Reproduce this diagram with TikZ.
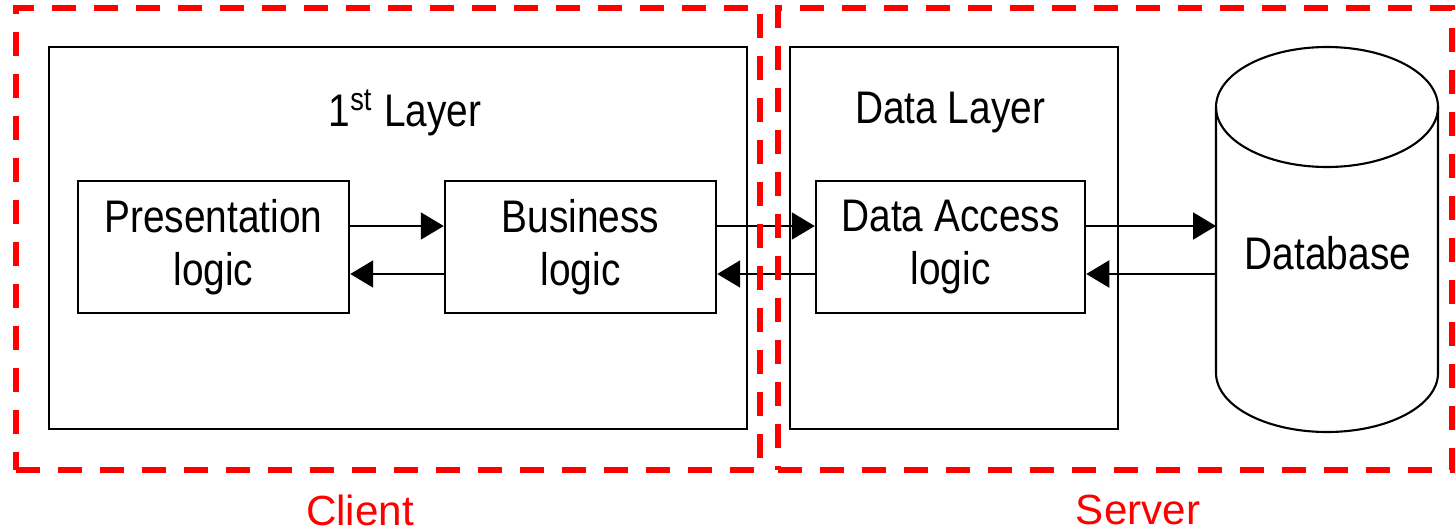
\documentclass[tikz,border=0pt]{standalone}
\usepackage{fontspec}
\setmainfont{Liberation Sans}[FakeStretch=0.85]
\newfontfamily\zonefont{Liberation Sans}
\usetikzlibrary{arrows.meta}

\begin{document}
\begin{tikzpicture}[
    logicbox/.style={draw, line width=0.7pt, minimum width=2.71cm, minimum height=1.32cm,
      align=center, font=\fontsize{13}{15}\selectfont},
    layerbox/.style={draw, line width=0.7pt},
    flow/.style={line width=0.6pt, -{Triangle[length=2.3mm,width=2.7mm]}},
    zone/.style={draw=red, line width=1.6pt, dash pattern=on 0.24cm off 0.18cm},
    zonelabel/.style={text=red, inner sep=1pt, font=\zonefont\fontsize{12}{14}\selectfont}
  ]
  \useasboundingbox (0,0) rectangle (14.56,-5.31);

  % Layers
  \node[layerbox, minimum width=6.98cm, minimum height=3.82cm] (layer1) at (3.98,-2.38) {};
  \node[layerbox, minimum width=3.28cm, minimum height=3.82cm] (layer2) at (9.54,-2.38) {};
  \node[font=\fontsize{13}{15}\selectfont] (layer1name) at (4.05,-1.13) {1\textsuperscript{st} Layer};
  \node[font=\fontsize{13}{15}\selectfont] (layer2name) at (9.50,-1.13) {Data Layer};

  % Logic boxes
  \node[logicbox] (pres) at (2.135,-2.47) {Presentation\\logic};
  \node[logicbox] (bus) at (5.805,-2.47) {Business\\logic};
  \node[logicbox, minimum width=2.69cm] (dal) at (9.505,-2.47) {Data Access\\logic};

  % Database cylinder
  \draw[line width=0.6pt] (12.16,-1.07) -- (12.16,-3.73)
    arc[start angle=180, end angle=360, x radius=1.11, y radius=0.59] -- (14.38,-1.07);
  \draw[line width=0.6pt] (13.27,-1.07) ellipse (1.11 and 0.60);
  \node[font=\fontsize{13}{15}\selectfont] (db) at (13.28,-2.53) {Database};
  \coordinate (dbside) at (12.16,-2.47);

  % Requests and replies
  \draw[flow] ([yshift=2.1mm]pres.east) -- ([yshift=2.1mm]bus.west);
  \draw[flow] ([yshift=-2.7mm]bus.west) -- ([yshift=-2.7mm]pres.east);
  \draw[flow] ([yshift=2.1mm]bus.east) -- ([yshift=2.1mm]dal.west);
  \draw[flow] ([yshift=-2.7mm]dal.west) -- ([yshift=-2.7mm]bus.east);
  \draw[flow] ([yshift=2.1mm]dal.east) -- ([yshift=2.1mm]dbside);
  \draw[flow] ([yshift=-2.7mm]dbside) -- ([yshift=-2.7mm]dal.east);

  % Client / server zones
  \node[zone, minimum width=7.44cm, minimum height=4.62cm] (client) at (3.88,-2.39) {};
  \node[zone, minimum width=6.74cm, minimum height=4.62cm] (server) at (11.15,-2.39) {};
  \node[zonelabel] (clientname) at (3.60,-5.10) {Client};
  \node[zonelabel] (servername) at (11.38,-5.10) {Server};
\end{tikzpicture}
\end{document}
